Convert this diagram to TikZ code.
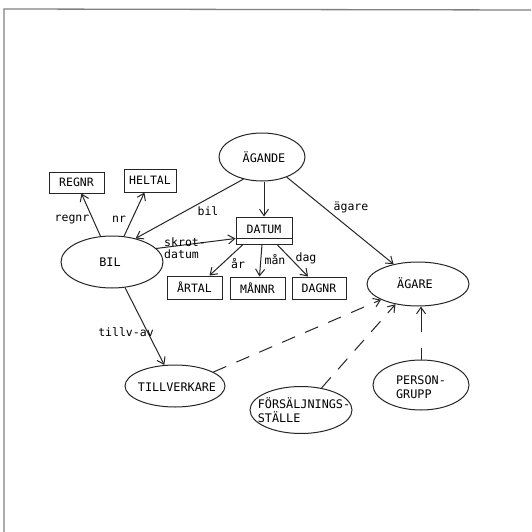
\documentclass[tikz,border=0pt]{standalone}
\usepackage{fontspec}
\setmonofont{DejaVu Sans Mono}
\usetikzlibrary{shapes.geometric,arrows.meta}
\begin{document}
\begin{tikzpicture}[x=1pt,y=-1pt,
  ink/.style={draw=black!85,line width=1pt},
  ent/.style={ink,ellipse,inner sep=0pt},
  etxt/.style={font=\ttfamily\fontsize{11.8}{14}\selectfont,align=left,inner sep=0pt},
  dom/.style={ink,rectangle,inner sep=0pt,font=\ttfamily\fontsize{11.5}{13}\selectfont},
  lbl/.style={font=\ttfamily\fontsize{11.5}{12}\selectfont,inner sep=0pt},
  arr/.style={ink,-{Straight Barb[length=6.5pt,width=9pt]}},
  darr/.style={arr,dash pattern=on 14pt off 11pt}]
\useasboundingbox (0,0) rectangle (531,532);
\fill[white] (0,0) rectangle (531,532);
% page frame
\draw[black!50,line width=1.3pt] (4,532) -- (4,9) -- (531,10);

% entities (outline, then name)
\node[ent,minimum width=86,minimum height=48] (agande) at (262,157) {};
\node[etxt] (agande-t) at (264,157) {ÄGANDE};
\node[ent,minimum width=102,minimum height=52] (bil) at (112,262) {};
\node[etxt] (bil-t) at (110,262) {BIL};
\node[ent,minimum width=102,minimum height=44] (agare) at (418,284) {};
\node[etxt] (agare-t) at (415,283) {ÄGARE};
\node[ent,minimum width=100,minimum height=42] (tillv) at (175,386) {};
\node[etxt] (tillv-t) at (177,387) {TILLVERKARE};
\node[ent,minimum width=102,minimum height=47] (fors) at (301,410) {};
\node[etxt] (fors-t) at (304,410) {FÖRSÄLJNINGS-\\STÄLLE};
\node[ent,minimum width=96,minimum height=50] (pgr) at (421,385) {};
\node[etxt] (pgr-t) at (421,387) {PERSON-\\GRUPP};

% domains
\node[dom,minimum width=55,minimum height=21] (regnr) at (76.5,182.5) {REGNR};
\node[dom,minimum width=52,minimum height=23] (heltal) at (150,180.5) {HELTAL};
\node[dom,minimum width=56,minimum height=27,text depth=0pt] (datum) at (264,230.5) {\raisebox{2pt}{DATUM}};
\draw[ink] ([yshift=6pt]datum.south west) -- ([yshift=6pt]datum.south east);
\node[dom,minimum width=55,minimum height=23] (artal) at (194.5,287.5) {ÅRTAL};
\node[dom,minimum width=55,minimum height=22] (mannr) at (257.5,288) {MÅNNR};
\node[dom,minimum width=54,minimum height=22] (dagnr) at (319,288) {DAGNR};

% attributes
\draw[arr] (bil) -- (regnr);
\draw[arr] (bil) -- (heltal);
\draw[arr] (agande.230) -- (bil.45);
\draw[arr] (bil.17) -- ([yshift=6pt]datum.south west);
\draw[arr] (agande.south -| datum.north) -- (datum.north);
\draw[arr] (agande) -- (agare);
\draw[arr] ([xshift=-21pt]datum.south) -- ([xshift=15pt]artal.north);
\draw[arr] ([xshift=-2pt]datum.south) -- ([xshift=2pt]mannr.north);
\draw[arr] ([xshift=13pt]datum.south) -- ([xshift=-11pt]dagnr.north);
\draw[arr] (bil) -- (tillv);

% subtypes
\draw[darr] (tillv.20) -- (agare.203);
\draw[darr] (fors.47) -- (agare.222);
\draw[arr,dash pattern=on 12pt off 16pt on 40pt] (pgr.north) -- (agare.south -| pgr.north);

% labels
\node[lbl] (l-regnr) at (72,220) {regnr};
\node[lbl] (l-nr) at (119,219) {nr};
\node[lbl] (l-bil) at (208,211) {bil};
\node[lbl,align=left] (l-skrot) at (185,248) {skrot-\\datum};
\node[lbl] (l-agare) at (351,207) {ägare};
\node[lbl] (l-ar) at (238,264) {år};
\node[lbl] (l-man) at (275,260) {mån};
\node[lbl] (l-dag) at (306,258) {dag};
\node[lbl] (l-tillv) at (126,332) {tillv-av};
\end{tikzpicture}
\end{document}
